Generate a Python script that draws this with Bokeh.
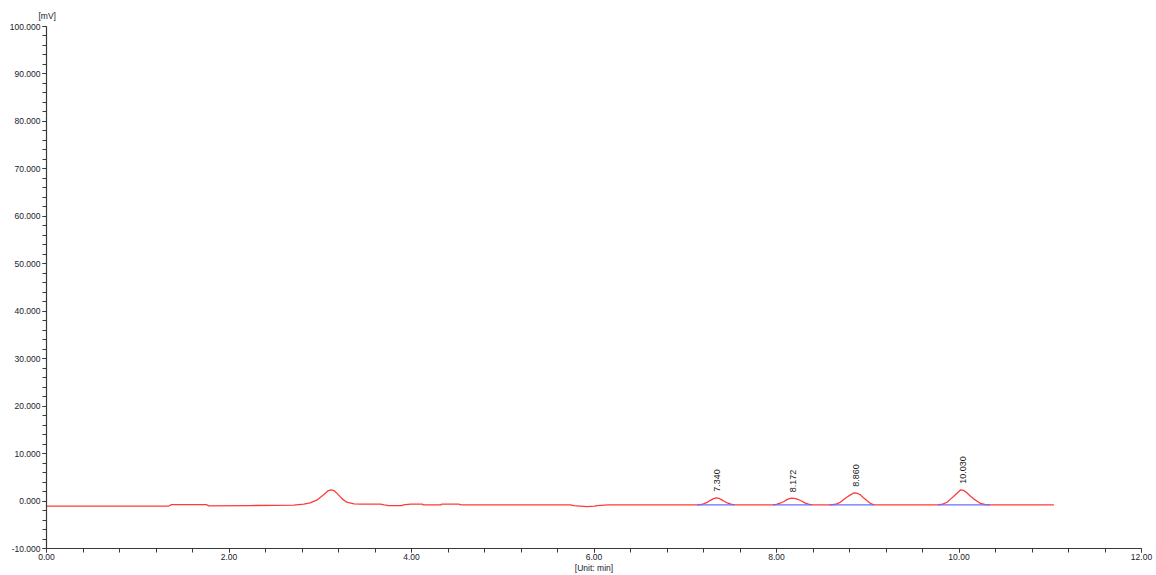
import math
from bokeh.plotting import figure
from bokeh.models import Range1d, FixedTicker, PrintfTickFormatter, ColumnDataSource
from bokeh.embed import file_html
from bokeh.resources import INLINE
from bokeh.core.properties import value

# ---- data ----
time_min = [0.00, 1.34, 1.37, 1.75, 1.78, 2.23, 2.71, 2.82, 2.89, 2.965, 3.04, 3.09, 3.12,
            3.15, 3.19, 3.24, 3.29, 3.37, 3.44, 3.66, 3.70, 3.75, 3.90, 3.91, 3.99, 4.12,
            4.13, 4.32, 4.33, 4.52, 4.54, 5.74, 5.78, 5.92, 6.01, 6.03, 6.16,
            7.13, 7.17, 7.20, 7.24, 7.27, 7.31, 7.34, 7.37, 7.40, 7.43, 7.46, 7.50, 7.54,
            7.96, 8.00, 8.04, 8.08, 8.11, 8.14, 8.17, 8.21, 8.24, 8.28, 8.31, 8.35, 8.39,
            8.58, 8.62, 8.66, 8.70, 8.73, 8.77, 8.81, 8.84, 8.86, 8.89, 8.92, 8.95, 8.99,
            9.02, 9.04, 9.07,
            9.77, 9.82, 9.87, 9.90, 9.94, 9.98, 10.02, 10.05, 10.08, 10.12, 10.16, 10.20,
            10.23, 10.29, 10.34, 11.04]
signal_mv = [-1.05, -1.05, -0.75, -0.75, -1.0, -0.95, -0.88, -0.67, -0.39, 0.24, 1.37, 2.21, 2.35,
             2.21, 1.51, 0.46, -0.25, -0.60, -0.67, -0.67, -0.81, -0.95, -0.95, -0.81, -0.67, -0.67,
             -0.81, -0.81, -0.67, -0.67, -0.81, -0.81, -0.95, -1.16, -1.09, -0.95, -0.81,
             -0.81, -0.75, -0.60, -0.30, 0.10, 0.50, 0.67, 0.55, 0.24, -0.10, -0.39, -0.65, -0.81,
             -0.81, -0.72, -0.46, -0.10, 0.24, 0.50, 0.60, 0.50, 0.32, -0.05, -0.39, -0.65, -0.81,
             -0.81, -0.75, -0.60, -0.25, 0.24, 0.80, 1.30, 1.65, 1.73, 1.60, 1.30, 0.75, 0.10,
             -0.35, -0.60, -0.81,
             -0.81, -0.65, -0.25, 0.30, 0.95, 1.70, 2.36, 2.25, 1.86, 1.10, 0.46, -0.05,
             -0.46, -0.74, -0.81, -0.81]

peak_rt = [7.340, 8.172, 8.860, 10.030]
peak_labels = ["7.340", "8.172", "8.860", "10.030"]
peak_height = [0.67, 0.60, 1.73, 2.36]
base_start = [7.13, 7.96, 8.58, 9.77]
base_end = [7.54, 8.39, 9.07, 10.34]
base_level = [-0.81, -0.81, -0.81, -0.81]

x_ticks = [0, 2, 4, 6, 8, 10, 12]
y_ticks = [-10, 0, 10, 20, 30, 40, 50, 60, 70, 80, 90, 100]
x_minor = [round(i * 0.4, 2) for i in range(0, 31)]
y_minor = list(range(-10, 101, 2))

FONT = "Liberation Sans"

p = figure(width=1156, height=575, output_backend="svg", toolbar_location=None,
           x_range=Range1d(0, 12), y_range=Range1d(-10, 100),
           title="[mV]", title_location="above",
           min_border_left=46, min_border_right=15, min_border_top=26, min_border_bottom=27,
           background_fill_color="white", border_fill_color="white")
p.xgrid.visible = False
p.ygrid.visible = False
p.outline_line_color = None

p.title.align = "left"
p.title.offset = -8
p.title.standoff = 12
p.title.text_font = FONT
p.title.text_font_size = "8.5px"
p.title.text_font_style = "normal"
p.title.text_color = "#1a1a2a"

p.xaxis.ticker = FixedTicker(ticks=x_ticks, minor_ticks=x_minor)
p.yaxis.ticker = FixedTicker(ticks=y_ticks, minor_ticks=y_minor)
p.xaxis.formatter = PrintfTickFormatter(format="%.2f")
p.yaxis.formatter = PrintfTickFormatter(format="%.3f")
for ax in (p.xaxis, p.yaxis):
    ax.axis_line_color = "#3a3a3a"
    ax.axis_line_width = 1.2
    ax.major_tick_line_color = "#3a3a3a"
    ax.minor_tick_line_color = "#3a3a3a"
    ax.major_tick_in = 0
    ax.minor_tick_in = 0
    ax.major_tick_out = 4
    ax.minor_tick_out = 4
    ax.major_label_text_font = FONT
    ax.major_label_text_font_size = "8.5px"
    ax.major_label_text_color = "#1a1a2a"
p.xaxis.major_label_standoff = 1
p.yaxis.major_label_standoff = 2

p.xaxis.axis_label = "[Unit: min]"
p.xaxis.axis_label_standoff = 0
p.xaxis.axis_label_text_font = FONT
p.xaxis.axis_label_text_font_size = "8.5px"
p.xaxis.axis_label_text_font_style = "normal"
p.xaxis.axis_label_text_color = "#1a1a2a"

src = ColumnDataSource(dict(t=time_min, v=signal_mv))
p.line("t", "v", source=src, line_color="#ff3a3a", line_width=1.3)

p.segment(x0=base_start, y0=base_level, x1=base_end, y1=base_level,
          line_color="#6b6bff", line_width=1.3)

p.text(x=peak_rt, y=peak_height, text=peak_labels, angle=math.pi / 2,
       text_align="left", text_baseline="middle", y_offset=-6, x_offset=1,
       text_font=value(FONT), text_font_size="9px", text_color="#1a1a1a")

open("out.html", "w").write(file_html(p, INLINE))
